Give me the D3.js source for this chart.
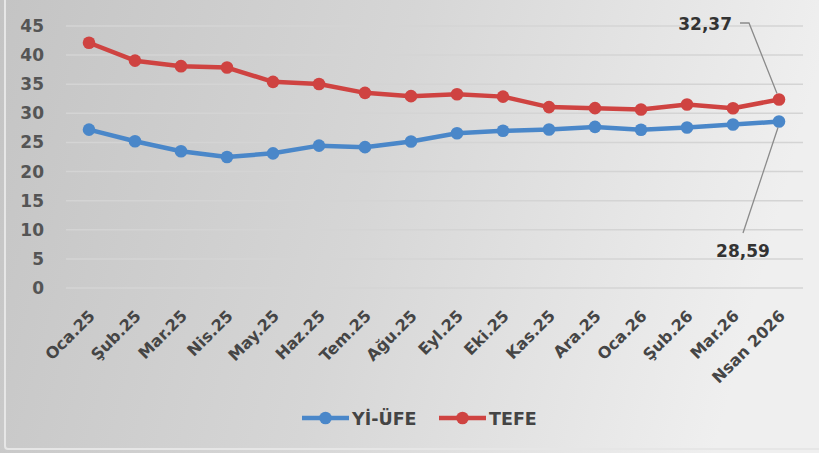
<!DOCTYPE html>
<html><head><meta charset="utf-8">
<script src="https://cdn.jsdelivr.net/npm/d3@7"></script>
<style>
html,body{margin:0;padding:0;background:#ddd;}
svg{display:block;}
text{font-family:"DejaVu Sans",sans-serif;font-weight:bold;}
</style></head>
<body>
<svg id="c" width="819" height="453"></svg>
<script>
const categories = ["Oca.25","Şub.25","Mar.25","Nis.25","May.25","Haz.25","Tem.25","Ağu.25","Eyl.25","Eki.25","Kas.25","Ara.25","Oca.26","Şub.26","Mar.26","Nsan 2026"];
const yiufe = [27.2,25.21,23.5,22.5,23.13,24.45,24.19,25.16,26.59,27.0,27.23,27.67,27.17,27.56,28.08,28.59];
const tefe  = [42.12,39.05,38.1,37.86,35.41,35.05,33.52,32.95,33.29,32.87,31.07,30.89,30.65,31.53,30.87,32.37];
const yTicks = [0,5,10,15,20,25,30,35,40,45];
const seriesNames = ["Yİ-ÜFE","TEFE"];
const colors = ["#4a87c9","#cf4341"];

const svg = d3.select("#c");
const W=819,H=453;
const FONT = "'DejaVu Sans',sans-serif";
const defs = svg.append("defs");
const g1 = defs.append("linearGradient").attr("id","bg").attr("x1","0").attr("x2","1").attr("y1","0").attr("y2","0.15");
g1.append("stop").attr("offset","0").attr("stop-color","#c4c4c4");
g1.append("stop").attr("offset","0.5").attr("stop-color","#d6d6d6");
g1.append("stop").attr("offset","1").attr("stop-color","#efefef");
svg.append("rect").attr("width",W).attr("height",H).attr("fill","url(#bg)");
svg.append("rect").attr("x",5).attr("y",-5).attr("width",W-2).attr("height",H+1)
  .attr("fill","none").attr("stroke","#e6e6e6").attr("stroke-width",2).attr("rx",3);

const x = d3.scaleBand().domain(categories).range([66,802]);
const y = d3.scaleLinear().domain([0,45]).range([288,26]);

// grid
svg.append("g").selectAll("line").data(yTicks).join("line")
  .attr("x1",66).attr("x2",803).attr("y1",d=>y(d)).attr("y2",d=>y(d))
  .attr("stroke","#d4d4d4").attr("stroke-width",1.5);

// y axis
const ya = svg.append("g").attr("transform","translate(44,0)")
  .call(d3.axisLeft(y).tickValues(yTicks).tickSize(0).tickPadding(0));
ya.select(".domain").remove();
ya.selectAll("text").attr("fill","#555").style("font-size","17px").style("font-family",FONT).style("font-weight","bold");

// x axis labels
const xa = svg.append("g").attr("transform","translate(0,288)")
  .call(d3.axisBottom(x).tickSize(0).tickPadding(0));
xa.select(".domain").remove();
xa.selectAll("text")
  .attr("fill","#454545").style("font-size","16px").style("font-family",FONT).style("font-weight","bold")
  .attr("text-anchor","end").attr("dy","0").attr("y",0)
  .attr("transform","translate(7,29) rotate(-45)");

const data = [yiufe,tefe];
const line = d3.line().x((d,i)=>x(categories[i])+x.bandwidth()/2).y(d=>y(d));
data.forEach((s,k)=>{
  svg.append("path").datum(s).attr("d",line).attr("fill","none")
    .attr("stroke",colors[k]).attr("stroke-width",4.5).attr("stroke-linejoin","round");
  svg.append("g").selectAll("circle").data(s).join("circle")
    .attr("cx",(d,i)=>x(categories[i])+x.bandwidth()/2).attr("cy",d=>y(d))
    .attr("r",6.3).attr("fill",colors[k]);
});

// callouts
const lastX = x(categories[categories.length-1])+x.bandwidth()/2;
const lastT = tefe[tefe.length-1], lastY = yiufe[yiufe.length-1];
svg.append("polyline").attr("points",`740,23 749,23 ${lastX-2},${y(lastT)-6}`)
  .attr("fill","none").attr("stroke","#8a8a8a").attr("stroke-width",1.3);
svg.append("text").attr("x",732).attr("y",30).attr("text-anchor","end")
  .attr("fill","#333").style("font-size","17px").text(d3.format(".2f")(lastT).replace(".",","));
svg.append("line").attr("x1",743).attr("y1",233).attr("x2",lastX-1).attr("y2",y(lastY)+6)
  .attr("stroke","#8a8a8a").attr("stroke-width",1.3);
svg.append("text").attr("x",743).attr("y",257).attr("text-anchor","middle")
  .attr("fill","#333").style("font-size","17px").text(d3.format(".2f")(lastY).replace(".",","));

// legend
const leg = [{x:302,name:seriesNames[0],c:colors[0]},{x:439,name:seriesNames[1],c:colors[1]}];
leg.forEach(l=>{
  svg.append("line").attr("x1",l.x).attr("x2",l.x+47).attr("y1",418).attr("y2",418)
    .attr("stroke",l.c).attr("stroke-width",4.5);
  svg.append("circle").attr("cx",l.x+23.5).attr("cy",418).attr("r",6.3).attr("fill",l.c);
  svg.append("text").attr("x",l.x+50).attr("y",424.5).attr("fill","#444")
    .style("font-size","17.5px").text(l.name);
});
</script>
</body></html>
